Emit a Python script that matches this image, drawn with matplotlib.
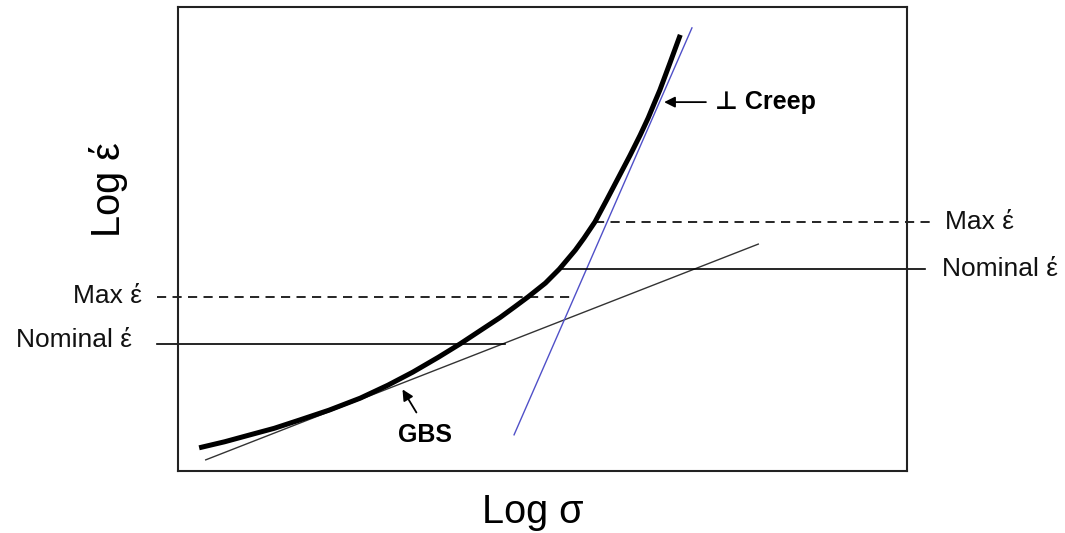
import matplotlib
matplotlib.use("Agg")
import matplotlib.pyplot as plt

plt.rcParams['font.family'] = ['Liberation Sans', 'DejaVu Sans']

# combined strain-rate curve (log sigma, log strain rate), arbitrary units
total_x = [0.29, 0.64, 0.99, 1.32, 1.67, 2.07, 2.50, 2.88, 3.22, 3.57, 3.87, 4.14,
           4.42, 4.62, 4.80, 5.04, 5.23, 5.45, 5.57, 5.72, 5.88, 6.06, 6.20,
           6.34, 6.45, 6.54, 6.61, 6.75, 6.89]
total_y = [0.50, 0.63, 0.78, 0.92, 1.10, 1.31, 1.57, 1.85, 2.13, 2.45, 2.74, 3.02,
           3.31, 3.54, 3.75, 4.05, 4.35, 4.76, 5.02, 5.37, 5.84, 6.38, 6.80,
           7.24, 7.61, 7.95, 8.21, 8.80, 9.40]

# grain boundary sliding asymptote
gbs_x = [0.38, 7.96]
gbs_y = [0.24, 4.89]

# dislocation creep asymptote
creep_x = [4.61, 7.05]
creep_y = [0.78, 9.55]

# reference strain-rate levels: (y, x start, x end)
max_right = (5.37, 5.72, 10.32)
nom_right = (4.35, 5.23, 10.25)
max_left = (3.75, -0.29, 5.42)
nom_left = (2.74, -0.29, 4.49)

fig = plt.figure(figsize=(10.65, 5.33), dpi=100)
ax = fig.add_axes([178 / 1065, 62 / 533, 729 / 1065, 464 / 533])
ax.set_xlim(0, 10)
ax.set_ylim(0, 10)
ax.set_xticks([])
ax.set_yticks([])
for s in ax.spines.values():
    s.set_linewidth(1.5)
    s.set_color('#222222')

ax.plot(gbs_x, gbs_y, color='#333333', lw=1.0)
ax.plot(creep_x, creep_y, color='#5050c8', lw=1.0)
ax.plot(total_x, total_y, color='black', lw=3.6, solid_capstyle='butt',
        solid_joinstyle='round')

for lvl, ls in [(max_right, (0, (5.5, 3.8))), (nom_right, '-'),
                (max_left, (0, (5.5, 3.8))), (nom_left, '-')]:
    y, x0, x1 = lvl
    ax.plot([x0, x1], [y, y], color='black', lw=1.2, linestyle=ls, clip_on=False)

ax.text(10.52, max_right[0], 'Max έ', fontsize=19, ha='left', va='center', color='#111111')
ax.text(10.48, nom_right[0], 'Nominal έ', fontsize=19, ha='left', va='center', color='#111111')
ax.text(-0.49, max_left[0] + 0.03, 'Max έ', fontsize=19, ha='right', va='center', color='#111111')
ax.text(-0.63, nom_left[0] + 0.08, 'Nominal έ', fontsize=19, ha='right', va='center', color='#111111')

ax.annotate('', xy=(6.63, 7.95), xytext=(7.28, 7.95),
            arrowprops=dict(arrowstyle='-|>', color='black', lw=1.3, mutation_scale=16))
ax.text(7.37, 7.95, '⊥ Creep', fontsize=18, fontweight='bold', ha='left', va='center')

ax.annotate('', xy=(3.06, 1.81), xytext=(3.29, 1.21),
            arrowprops=dict(arrowstyle='-|>', color='black', lw=1.3, mutation_scale=16))
ax.text(3.39, 0.78, 'GBS', fontsize=18, fontweight='bold', ha='center', va='center')

fig.text(533 / 1065, 10 / 533, 'Log σ', fontsize=28.5, ha='center', va='baseline')
fig.text(108 / 1065, 1 - 190 / 533, 'Log έ', fontsize=28.5, ha='center', va='center', rotation=90)

fig.savefig('out.png', dpi=100)
